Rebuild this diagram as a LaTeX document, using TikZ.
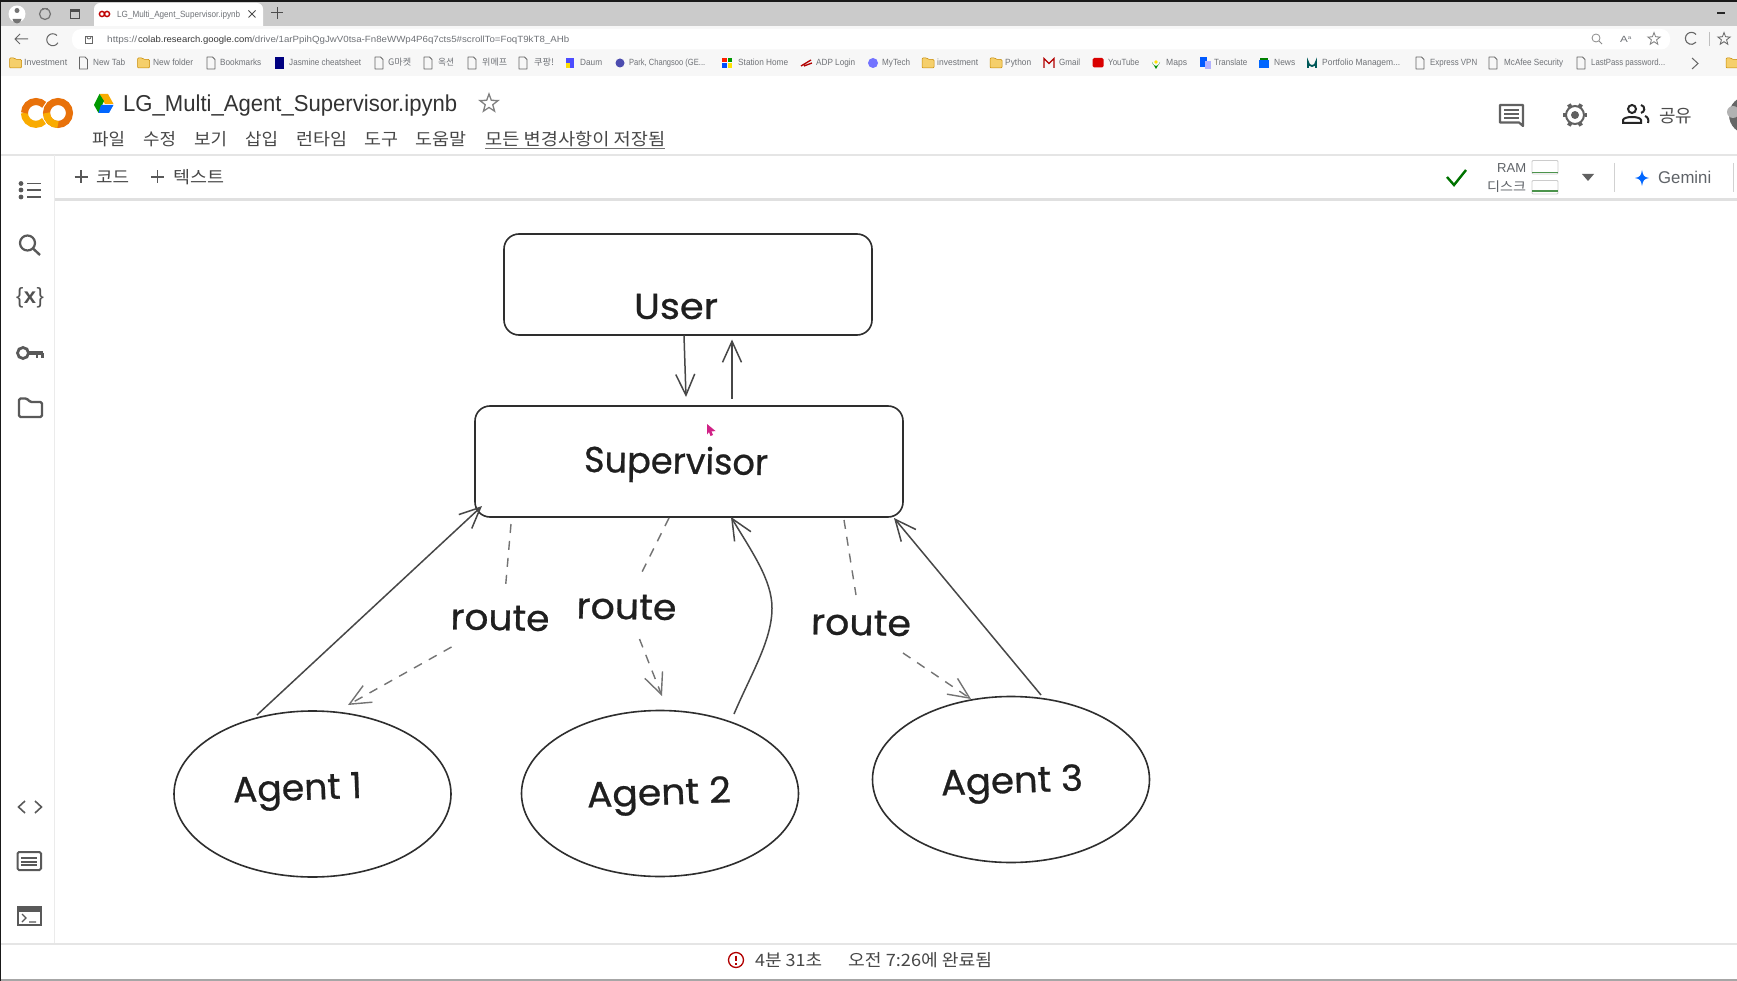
\documentclass[tikz,border=0pt]{standalone}
\usepackage{fontspec}
\setmainfont{Liberation Sans}
\newfontfamily\krf{Noto Sans CJK KR}
\newfontfamily\handf[FakeBold=0.7]{Poppins}
\usetikzlibrary{arrows.meta,shapes.geometric}
\definecolor{barg}{HTML}{CBCBCB}
\definecolor{chromebg}{HTML}{F7F7F7}
\definecolor{uit}{HTML}{5F6368}
\definecolor{ink}{HTML}{2E2E2E}
\definecolor{colabY}{HTML}{F9AB00}
\definecolor{colabO}{HTML}{E8710A}
\definecolor{foldery}{HTML}{F5CF6B}
\tikzset{
  x=1pt,y=-1pt,
  uitxt/.style={anchor=base west,inner sep=0pt,text=uit},
  bmtxt/.style={uitxt,font=\fontsize{9}{9}\selectfont,text=uit!90},
  menutxt/.style={uitxt,font=\fontsize{17}{17}\krf,text=black!72},
  sidei/.style={draw=black!65,line width=1.9pt},
  sketchbox/.style={draw=ink,line width=1.6pt,rounded corners=15pt,inner sep=0pt},
  sketchell/.style={draw=ink,line width=1.6pt,ellipse,inner sep=0pt,minimum width=277pt,minimum height=166pt},
  handlbl/.style={font=\fontsize{36}{36}\handf,text=black!88,inner sep=0pt},
  flow/.style={draw=black!72,line width=1.5pt,-{Straight Barb[length=21pt,width=19pt,line width=1.5pt]}},
  dashline/.style={draw=black!55,line width=1.4pt,dash pattern=on 9pt off 8pt},
  dashflow/.style={dashline,-{Straight Barb[length=21pt,width=19pt,line width=1.4pt]}},
  docico/.pic={\draw[black!60,line width=.9pt,line join=round] (-4,-6)--(1.5,-6)--(4,-3.5)--(4,6)--(-4,6)--cycle;},
  foldico/.pic={\fill[foldery,draw=colabY!80!black,line width=.5pt,rounded corners=1pt] (-6,-5)--(-1,-5)--(0.5,-3.5)--(6,-3.5)--(6,5)--(-6,5)--cycle;},
}
\newcommand\uit[6][bmtxt]{\pgfmathsetlengthmacro\uiw{#4-#3}\node[#1] (#2) at (#3,#5) {\resizebox{\uiw}{\height}{#6}};}
\newcommand\bmk[3]{\uit{bm#1}{#1}{#2}{66}{#3}}
\begin{document}
\begin{tikzpicture}
\useasboundingbox (0,0) rectangle (1737,981);
% page
\fill[white] (0,0) rectangle (1737,981);
% chrome
\fill[barg] (0,0) rectangle (1737,26);
\fill[black!90] (0,0) rectangle (1737,2.5);
\fill[chromebg] (0,26) rectangle (1737,76);
\fill[white,rounded corners=9pt] (72,29) rectangle (1670,49.5);
\fill[white,rounded corners=6pt] (94,3) -- (263,3) -- (263,32) -- (94,32) -- cycle;
\fill[chromebg] (94,26) rectangle (263,29);
\fill[white] (0,76) rectangle (1737,981);
% tab strip icons
\fill[white] (17,14) circle[radius=8.5];
\fill[black!55] (17,10.5) circle[radius=2.5];
\fill[black!55] (12.5,19) arc[start angle=180,end angle=0,radius=4.5] -- cycle;
\draw[black!55,line width=1.2pt] (45,14) circle[radius=5.5];
\draw[black!55,line width=1pt] (42,9) -- (48,9);
\draw[black!70,line width=1.2pt] (70.5,9.5) rectangle (79.5,18.5);
\fill[black!70] (70.5,9.5) rectangle (79.5,12);
\draw[red!75!black,line width=1.4pt] (102,14) circle[radius=2.6];
\draw[red!75!black,line width=1.4pt] (107,14) circle[radius=2.6];
\uit{tabtitle}{117}{240}{17.5}{LG\_Multi\_Agent\_Supervisor.ipynb}
\draw[black!70,line width=1pt] (248.5,10.5) -- (255.5,17.5) (248.5,17.5) -- (255.5,10.5);
\draw[black!70,line width=1pt] (271,13) -- (283,13) (277,7) -- (277,19);
% nav
\draw[black!60,line width=1pt] (28,39) -- (15,39) (20,34) -- (15,39) -- (20,44);
\draw[black!60,line width=1pt] (57,35.5) arc[start angle=-45,end angle=-330,radius=6];
\draw[black!60,line width=1pt] (85.5,37) rectangle (92.5,44);
\draw[black!60,line width=.8pt] (87,37) arc[start angle=180,end angle=0,radius=2];
\uit{urla}{107}{137}{43}{https://}
\uit{urlh}{138}{252}{43}{{\color{black!78}colab.research.google.com}}
\uit{urlb}{252}{569}{43}{/drive/1arPpihQgJwV0tsa-Fn8eWWp4P6q7cts5\#scrollTo=FoqT9kT8\_AHb}
\draw[black!45,line width=.8pt] (1596,38) circle[radius=4] (1599,41)--(1602,44);
\uit{rdr}{1620}{1632}{43}{A\textsuperscript{\tiny a}}
\node[star,star points=5,star point ratio=2.4,draw=black!50,line width=.8pt,inner sep=0pt,minimum size=13pt] (favstar) at (1654,39) {};
\draw[black!60,line width=1.1pt] (1696,34.5) arc[start angle=-40,end angle=-320,radius=6];
\draw[black!25,line width=.8pt] (1709,32) -- (1709,46);
\node[star,star points=5,star point ratio=2.4,draw=black!60,line width=.8pt,inner sep=0pt,minimum size=13pt] (favlist) at (1724,39) {};
\draw[black!85,line width=1.4pt] (1717,13) -- (1725,13);
% bookmarks
\pic at (15.5,63) {foldico}; \bmk{24}{67}{Investment}
\pic at (83.5,63) {docico}; \bmk{93}{125}{New Tab}
\pic at (143.5,63) {foldico}; \bmk{153}{193}{New folder}
\pic at (211,63) {docico}; \bmk{220}{261}{Bookmarks}
\fill[blue!50!black] (274.5,57) rectangle (284,69); \bmk{289}{361}{Jasmine cheatsheet}
\pic at (379,63) {docico}; \bmk{388}{411}{{\krf G마켓}}
\pic at (428,63) {docico}; \bmk{438}{454}{{\krf 옥션}}
\pic at (472,63) {docico}; \bmk{482}{507}{{\krf 위메프}}
\pic at (523,63) {docico}; \bmk{534}{554}{{\krf 쿠팡!}}
\fill[blue!70] (566,58) rectangle (574,68); \fill[yellow!80!orange] (566,63) rectangle (570,68); \bmk{580}{602}{Daum}
\fill[blue!55!black!70] (620,63) circle[radius=4.5]; \bmk{629}{705}{Park, Changsoo (GE...}
\fill[red!75!orange] (722,58) rectangle (726.5,62.5); \fill[green!60!black] (727.5,58) rectangle (732,62.5); \fill[blue!70!cyan] (722,63.5) rectangle (726.5,68); \fill[yellow!85!orange] (727.5,63.5) rectangle (732,68); \bmk{738}{788}{Station Home}
\draw[red!70!black,line width=1.3pt] (801,66) -- (811,60) (804,66) -- (812,63); \bmk{816}{855}{ADP Login}
\fill[blue!55] (873,63) circle[radius=5]; \bmk{882}{910}{MyTech}
\pic at (928,63) {foldico}; \bmk{937}{978}{investment}
\pic at (996,63) {foldico}; \bmk{1005}{1031}{Python}
\draw[red!70!black,line width=1.2pt] (1044,68) -- (1044,58.5) -- (1049,63.5) -- (1054,58.5) -- (1054,68); \bmk{1059}{1080}{Gmail}
\fill[red!85!black,rounded corners=1.5pt] (1092.5,58) rectangle (1103.5,67.5); \bmk{1108}{1139}{YouTube}
\fill[green!55!black] (1156,69) -- (1152,62) arc[start angle=180,end angle=0,radius=4] -- cycle; \fill[yellow!85!orange] (1156,62) circle[radius=1.8]; \bmk{1166}{1187}{Maps}
\fill[blue!65!cyan] (1200,57) rectangle (1207,67); \fill[blue!30] (1205,61) rectangle (1211,69); \bmk{1214}{1247}{Translate}
\fill[blue!60!cyan] (1259,60) rectangle (1269,68); \fill[green!50!black] (1260,58) rectangle (1268,60.5); \bmk{1274}{1295}{News}
\draw[teal!70!black,line width=1.8pt] (1308,68) -- (1308,62) arc[start angle=180,end angle=0,radius=4] -- (1316,68); \bmk{1322}{1400}{Portfolio Managem...}
\pic at (1420,63) {docico}; \bmk{1430}{1477}{Express VPN}
\pic at (1493,63) {docico}; \bmk{1504}{1563}{McAfee Security}
\pic at (1581,63) {docico}; \bmk{1591}{1665}{LastPass password...}
\draw[black!60,line width=1pt] (1692,58) -- (1698,63.5) -- (1692,69);
\pic at (1732,63) {foldico};
% colab header: C and O
\draw[colabO,line width=7pt] (58,113) circle[radius=11.5];
\draw[colabY,line width=7pt] (58,124.5) arc[start angle=90,end angle=180,radius=11.5];
\draw[colabY,line width=7pt] (44,121) arc[start angle=45,end angle=180,radius=11.5];
\draw[colabO,line width=7pt] (24.5,113) arc[start angle=180,end angle=315,radius=11.5];
\fill[colabY] (99.5,94) -- (108,94) -- (113.5,104) -- (105,104) -- cycle;
\fill[green!60!black] (99.5,94) -- (104,101) -- (98.5,113) -- (94,105) -- cycle;
\fill[blue!60!cyan] (101,105) -- (113.5,105) -- (109,113) -- (98.5,113) -- cycle;
\uit[uitxt,font=\fontsize{23}{23}\selectfont,text=black!80]{title}{123}{457}{112}{LG\_Multi\_Agent\_Supervisor.ipynb}
\node[star,star points=5,star point ratio=2.4,draw=black!50,line width=1.3pt,inner sep=0pt,minimum size=19pt] (titlestar) at (489,103.5) {};
\uit[menutxt]{m1}{92}{125}{146}{파일}
\uit[menutxt]{m2}{143}{176}{146}{수정}
\uit[menutxt]{m3}{194}{227}{146}{보기}
\uit[menutxt]{m4}{245}{278}{146}{삽입}
\uit[menutxt]{m5}{296}{347}{146}{런타임}
\uit[menutxt]{m6}{364}{398}{146}{도구}
\uit[menutxt]{m7}{415}{466}{146}{도움말}
\uit[menutxt]{m8}{485}{665}{146}{모든 변경사항이 저장됨}
\draw[black!55,line width=1pt] (485,148.5) -- (665,148.5);
% toolbar lines
\draw[black!10,line width=1.5pt] (0,155) -- (1737,155);
\fill[black!12] (54,198.5) rectangle (1737,201);
\draw[black!8,line width=1pt] (54,155) -- (54,943);
\draw[black!10,line width=1.5pt] (0,944) -- (1737,944);
\fill[black!35] (0,979) rectangle (1737,981);
\fill[black!90] (0,0) rectangle (1,981);
\draw[black!65,line width=1.6pt] (74.5,177) -- (87.5,177) (81,170.5) -- (81,183.5);
\uit[menutxt]{code}{96}{129}{184}{코드}
\draw[black!65,line width=1.6pt] (151,177) -- (164,177) (157.5,170.5) -- (157.5,183.5);
\uit[menutxt]{text}{173}{224}{184}{텍스트}
\draw[green!45!black,line width=2.4pt] (1447,177) -- (1454,185) -- (1466,170);
\uit[uitxt,font=\fontsize{13}{13}\selectfont]{ram}{1497}{1526}{173}{RAM}
\uit[uitxt,font=\fontsize{13}{13}\krf]{disk}{1487}{1526}{192}{디스크}
\draw[black!20,line width=.8pt,rounded corners=1pt] (1532,160.5) rectangle (1558,174);
\draw[green!40!black!70,line width=1.2pt] (1532,172.5) -- (1558,172.5);
\draw[black!20,line width=.8pt,rounded corners=1pt] (1532,180.5) rectangle (1558,194);
\draw[green!40!black!70,line width=1.2pt] (1532,191) -- (1558,191);
\fill[black!62] (1582,174) -- (1594,174) -- (1588,181) -- cycle;
\draw[black!18,line width=1pt] (1614,163) -- (1614,192);
\fill[blue!60!cyan] (1642,170) .. controls (1643,176) and (1644,177) .. (1649,178) .. controls (1644,179) and (1643,180) .. (1642,186) .. controls (1641,180) and (1640,179) .. (1635,178) .. controls (1640,177) and (1641,176) .. cycle;
\uit[uitxt,font=\fontsize{17}{17}\selectfont]{gemini}{1658}{1711}{184}{Gemini}
\draw[black!18,line width=1pt] (1733,163) -- (1733,192);
% right header icons
\draw[black!62,line width=2.2pt,line join=round] (1500,105) -- (1523,105) -- (1523,126) -- (1519,122.5) -- (1500,122.5) -- cycle;
\draw[black!62,line width=1.5pt] (1504,110) -- (1519,110) (1504,114) -- (1519,114) (1504,118) -- (1519,118);
\draw[black!62,line width=2pt] (1575,115) circle[radius=9];
\fill[black!62] (1575,115) circle[radius=4];
\foreach \a in {0,60,...,300} \draw[black!62,line width=4pt] (1575,115) ++(\a:9.5) -- ++(\a:2.8);
\draw[black!85,line width=2pt] (1632,109) circle[radius=4];
\draw[black!85,line width=2pt] (1623,123) -- (1623,120) .. controls (1624,116) and (1640,116) .. (1641,120) -- (1641,123) -- cycle;
\draw[black!85,line width=2pt] (1641,105) arc[start angle=-80,end angle=80,radius=4];
\draw[black!85,line width=2pt] (1645,116) .. controls (1648,117) and (1649,120) .. (1648,123);
\uit[uitxt,font=\fontsize{18}{18}\krf,text=black!70]{share}{1659}{1692}{123}{공유}
\begin{scope}
\clip (1720,90) rectangle (1737,140);
\fill[black!60] (1748,115) circle[radius=19];
\fill[black!30] (1733,112) circle[radius=6];
\end{scope}
% sidebar icons
\fill[black!65] (21,183.5) circle[radius=2.4] (21,190) circle[radius=2.4] (21,197) circle[radius=2.4];
\draw[sidei] (27,183.5) -- (41,183.5) (27,190) -- (41,190) (27,197) -- (41,197);
\draw[sidei,line width=2.2pt] (27.5,243) circle[radius=7.5];
\draw[sidei,line width=2.4pt] (33,248.5) -- (40,255);
\node[inner sep=0pt,text=black!68,font=\fontsize{22}{22}\selectfont] (varsi) at (30,298) {\{\hspace{.5pt}$\mathbf{x}$\hspace{.5pt}\}};
\draw[sidei,line width=2.8pt] (23,353) circle[radius=5.5];
\draw[sidei,line width=3.2pt] (29,353) -- (42.5,353);
\draw[sidei,line width=2.2pt] (42.5,353) -- (42.5,358) (37,353) -- (37,358);
\draw[sidei,line width=2.4pt,line join=round,rounded corners=1.5pt] (19,398.5) -- (27,398.5) -- (30,402) -- (42,402) -- (42,417) -- (19,417) -- cycle;
\draw[black!65,line width=1.6pt] (25,801) -- (18.5,807) -- (25,813) (35,801) -- (41.5,807) -- (35,813);
\draw[sidei,line width=2pt,rounded corners=1.5pt] (17.5,852) rectangle (41,870);
\draw[black!65,line width=2pt] (21,858) -- (37,858) (21,861.5) -- (37,861.5) (21,865) -- (37,865);
\draw[sidei,line width=1.6pt] (18,907) rectangle (41,925);
\fill[black!65] (18,906) rectangle (41,911.5);
\draw[black!65,line width=1.3pt] (22,914) -- (26,918) -- (22,922) (29,922) -- (36,922);
% mouse pointer
\fill[magenta!85!black] (707,424) -- (715.5,431) -- (711.5,431.5) -- (713,435) -- (710.5,436) -- (709,432) -- (707,434.5) -- cycle;
% status bar
\draw[red!70!black,line width=1.3pt] (736,960) circle[radius=7.5];
\draw[red!70!black,line width=1.4pt] (736,955.5) -- (736,961) (736,963) -- (736,964.5);
\uit[menutxt]{elapsed}{755}{822}{966}{4분 31초}
\uit[menutxt]{done}{848}{992}{966}{오전 7:26에 완료됨}
% ---- diagram ----
\node[sketchbox,minimum width=368pt,minimum height=101pt,label={[handlbl,xshift=-12pt,yshift=-22pt,name=userl]center:\resizebox{84pt}{\height}{User}}] (user) at (688,284.5) {};
\node[sketchbox,minimum width=428pt,minimum height=111pt,label={[handlbl,xshift=-13pt,yshift=-3pt,rotate=-1,name=supl]center:\resizebox{184pt}{\height}{Supervisor}}] (sup) at (689,461.5) {};
\node[sketchell,label={[handlbl,xshift=-15pt,yshift=2pt,rotate=2,name=a1l]center:\resizebox{129pt}{\height}{Agent 1}}] (a1) at (312.5,794) {};
\node[sketchell,label={[handlbl,xshift=-1pt,yshift=-3pt,rotate=2,name=a2l]center:\resizebox{144pt}{\height}{Agent 2}}] (a2) at (660,793.5) {};
\node[sketchell,label={[handlbl,xshift=1pt,yshift=-5pt,rotate=2,name=a3l]center:\resizebox{142pt}{\height}{Agent 3}}] (a3) at (1011,779.5) {};
\node[handlbl,rotate=-1] (r1) at (500,618) {\resizebox{99pt}{\height}{route}};
\node[handlbl,rotate=-1] (r2) at (626.5,607) {\resizebox{100pt}{\height}{route}};
\node[handlbl,rotate=-1] (r3) at (861,623) {\resizebox{100pt}{\height}{route}};
\coordinate (a2bend) at (772,608);
% connectors
\draw[flow] ([shift={(-4,51)}]user.center) -- ([shift={(-3,-64.5)}]sup.center);
\draw[flow] ([shift={(43,-63)}]sup.center) -- ([shift={(44,55)}]user.center);
\draw[flow] ([shift={(-55.5,-79)}]a1.center) -- ([shift={(-207,44.5)}]sup.center);
\draw[flow] ([shift={(74,-79.5)}]a2.center) .. controls (752,672) and (772,640) .. (a2bend) .. controls (772,580) and (752,552) .. ([shift={(42,55.5)}]sup.center);
\draw[flow] ([shift={(30,-84.5)}]a3.center) -- ([shift={(205,56.5)}]sup.center);
\draw[dashline] ([shift={(-178,62.5)}]sup.center) -- ([shift={(5.5,-31)}]r1.center);
\draw[dashflow] ([shift={(-48.5,29)}]r1.center) -- ([shift={(35.5,-89)}]a1.center);
\draw[dashline] ([shift={(-20,56.5)}]sup.center) -- ([shift={(14,-32)}]r2.center);
\draw[dashflow] ([shift={(13,32)}]r2.center) -- ([shift={(2,-97.5)}]a2.center);
\draw[dashline] ([shift={(155,58.5)}]sup.center) -- ([shift={(-5,-28)}]r3.center);
\draw[dashflow] ([shift={(42,30)}]r3.center) -- ([shift={(-40,-80.5)}]a3.center);
\end{tikzpicture}
\end{document}
